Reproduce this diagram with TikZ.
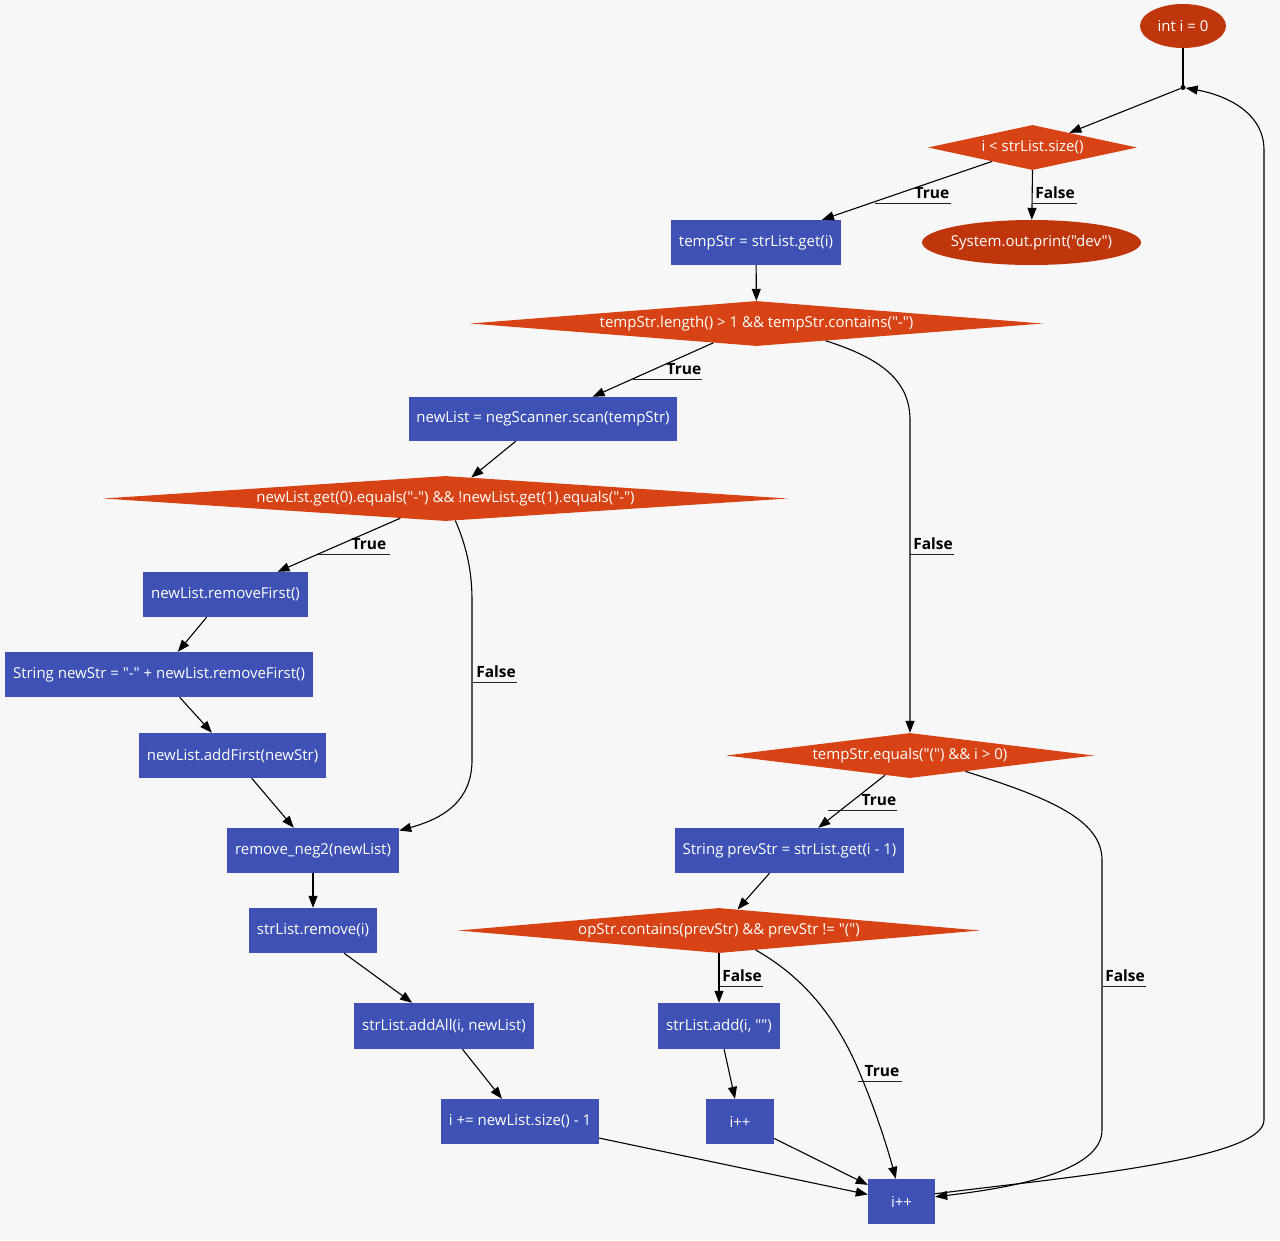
\documentclass[tikz,border=0pt]{standalone}
\usepackage{fontspec}
\setmainfont{Open Sans}[Ligatures=TeXOff]
\usetikzlibrary{shapes.geometric,arrows.meta,calc}
\definecolor{bgcol}{HTML}{F7F7F7}
\definecolor{stepcol}{HTML}{3F51B5}
\definecolor{testcol}{HTML}{D84315}
\definecolor{termcol}{HTML}{BF360C}
\definecolor{ulcol}{HTML}{222222}
\begin{document}
\begin{tikzpicture}[x=1pt,y=-1pt,
  font=\fontsize{15}{17}\selectfont,
  stepbox/.style={rectangle, fill=stepcol, text=white, inner sep=0pt, minimum height=45pt},
  termnode/.style={ellipse, fill=termcol, text=white, inner sep=0pt, minimum height=45pt},
  testnode/.style={diamond, fill=testcol, text=white, inner sep=0pt, minimum height=45pt},
  flow/.style={draw=black, line width=1.1pt},
  arr/.style={flow, -{Triangle[length=12pt,width=9pt]}},
  elab/.style={font=\fontsize{15.5}{17}\selectfont\bfseries, text=black, inner sep=0pt},
  uline/.style={draw=ulcol, line width=1pt}]
\useasboundingbox[fill=bgcol] (0,0) rectangle (1280,1240);

% terminals (text boxed at zero width so the ellipse keeps its set size)
\node[termnode, minimum width=86pt, minimum height=44pt] (st) at (1183,26) {\makebox[0pt]{int i = 0}};
\node[termnode, minimum width=219pt] (so) at (1031.5,242.5) {\makebox[0pt]{System.out.print("dev")}};
\node[circle, fill=black, inner sep=0pt, minimum size=5pt] (junc) at (1183,87.5) {};

% decisions
\node[testnode, minimum width=209pt, aspect=4.6] (d1) at (1032.5,147.5) {i < strList.size()};
\node[testnode, minimum width=573pt, aspect=12.7] (d2) at (756.5,323.5) {tempStr.length() > 1 \&\& tempStr.contains("-")};
\node[testnode, minimum width=685pt, aspect=15.2] (d3) at (445.5,498.5) {newList.get(0).equals("-") \&\& !newList.get(1).equals("-")};
\node[testnode, minimum width=368pt, aspect=8.2] (d4) at (910,755.5) {tempStr.equals("(") \&\& i > 0)};
\node[testnode, minimum width=522pt, aspect=11.6] (d5) at (719,930.5) {opStr.contains(prevStr) \&\& prevStr != "(")};

% statements
\node[stepbox, minimum width=170pt] (ts) at (756,242.5) {tempStr = strList.get(i)};
\node[stepbox, minimum width=268pt, minimum height=44pt] (nl) at (543,419) {newList = negScanner.scan(tempStr)};
\node[stepbox, minimum width=165pt] (rf) at (225.5,594.5) {newList.removeFirst()};
\node[stepbox, minimum width=308pt] (ns) at (159,674.5) {String newStr = "-" + newList.removeFirst()};
\node[stepbox, minimum width=187pt] (af) at (232.5,755.5) {newList.addFirst(newStr)};
\node[stepbox, minimum width=172pt] (rn) at (313,850.5) {remove\_neg2(newList)};
\node[stepbox, minimum width=128pt] (sr) at (313,930.5) {strList.remove(i)};
\node[stepbox, minimum width=180pt, minimum height=46pt] (aa) at (444,1026) {strList.addAll(i, newList)};
\node[stepbox, minimum width=158pt] (ip) at (520,1121.5) {i += newList.size() - 1};
\node[stepbox, minimum width=229pt] (ps) at (789.5,850.5) {String prevStr = strList.get(i - 1)};
\node[stepbox, minimum width=122pt, minimum height=46pt] (sa) at (719,1026) {strList.add(i, "")};
\node[stepbox, minimum width=68pt] (im) at (740,1121.5) {i++};
\node[stepbox, minimum width=67pt] (fin) at (901.5,1201.5) {i++};

% connectors
\draw[flow] (st) -- (junc);
\draw[arr] (junc) -- (d1);
\draw[arr] (d1) -- (ts);
\draw[arr] (d1.south) -- (so);
\draw[arr] (ts) -- (d2);
\draw[arr] (d2) -- (nl);
\draw[arr] (d2.-14) .. controls (880,358) and (910,380) .. (910,420) -- (d4.north);
\draw[arr] (nl) -- (d3);
\draw[arr] (d3) -- (rf);
\draw[arr] (d3.-66) .. controls (466,545) and (472,570) .. (472,600) -- (472,760)
  .. controls (472,800) and (445,818) .. (rn.13);
\draw[arr] (rf) -- (ns);
\draw[arr] (ns) -- (af);
\draw[arr] (af) -- (rn);
\draw[arr] (rn) -- (sr);
\draw[arr] (sr) -- (aa);
\draw[arr] (aa) -- (ip);
\draw[arr] (ip) -- (fin);
\draw[arr] (d4) -- (ps);
\draw[arr] (d4.-16) .. controls (1050,798) and (1102,820) .. (1102,860) -- (1102,1130)
  .. controls (1102,1172) and (1010,1188) .. (fin.8);
\draw[arr] (ps) -- (d5);
\draw[arr] (d5.south) -- (sa);
\draw[arr] (d5.-28) .. controls (800,975) and (832,1012) .. (855,1062)
  .. controls (876,1110) and (888,1150) .. (fin.104);
\draw[arr] (sa) -- (im);
\draw[arr] (im) -- (fin);
\draw[arr] (fin.13) .. controls (1060,1178) and (1264,1160) .. (1264,1120) -- (1264,150)
  .. controls (1264,112) and (1225,95) .. (junc);

% branch labels
\node[elab] (l1) at (932,193) {True};
\draw[uline] (875,203) -- (951,203);
\node[elab] (l2) at (1055,193) {False};
\draw[uline] (1032,203) -- (1077,203);
\node[elab] (l3) at (684,369) {True};
\draw[uline] (633,379) -- (702,379);
\node[elab] (l4) at (933,544) {False};
\draw[uline] (910,554) -- (954,554);
\node[elab] (l5) at (369,544) {True};
\draw[uline] (318,554) -- (390,554);
\node[elab] (l6) at (496,672) {False};
\draw[uline] (473,682) -- (517,682);
\node[elab] (l7) at (879,800) {True};
\draw[uline] (828,810) -- (897,810);
\node[elab] (l8) at (1125,976) {False};
\draw[uline] (1103,986) -- (1146,986);
\node[elab] (l9) at (742,976) {False};
\draw[uline] (720,986) -- (763,986);
\node[elab] (l10) at (882,1071) {True};
\draw[uline] (858,1081) -- (902,1081);
\end{tikzpicture}
\end{document}
